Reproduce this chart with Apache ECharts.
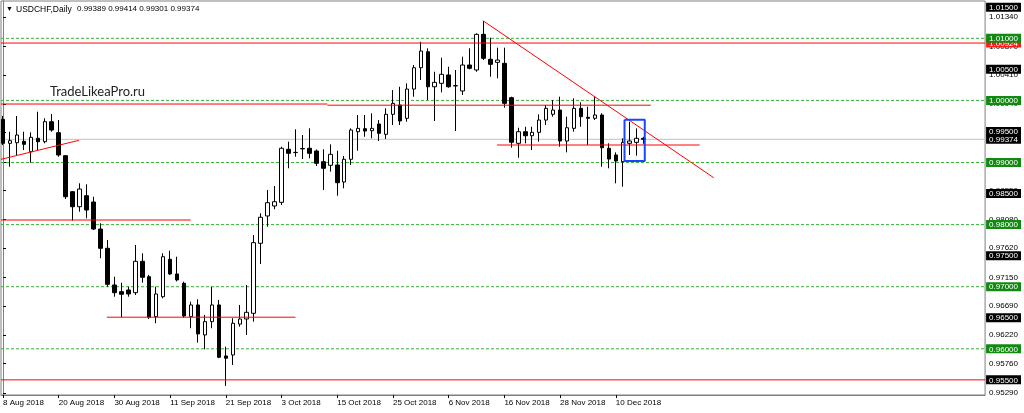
<!DOCTYPE html>
<html><head><meta charset="utf-8">
<script src="https://cdn.jsdelivr.net/npm/echarts@6/dist/echarts.min.js"></script>
<style>html,body{margin:0;padding:0;background:#fff}#c{width:1024px;height:413px}</style>
</head><body><div id="c"></div><script>
// ---- data: daily USDCHF bars, 8 Aug 2018 .. 14 Dec 2018 (index 0..92)
const opens  = [0.99695,0.99309,0.99319,0.99341,0.99174,0.99390,0.99335,0.99657,0.99480,0.99110,
0.98530,0.98288,0.98465,0.98364,0.97929,0.97619,0.97028,0.96920,0.96947,0.96904,
0.97409,0.97161,0.96517,0.96839,0.97442,0.97205,0.97055,0.96517,0.96706,0.96223,
0.96437,0.96706,0.95885,0.95901,0.96398,0.96480,0.96572,0.97699,0.98139,0.98300,
0.98359,0.99213,0.99160,0.99226,0.99229,0.99185,0.99013,0.98955,0.98960,0.98686,
0.99052,0.99496,0.99545,0.99512,0.99620,0.99454,0.99776,0.99926,0.99712,1.00183,
1.00526,1.00784,1.00220,1.00275,1.00410,1.00237,1.00152,1.00570,1.00490,1.01064,
1.00662,1.00613,1.00598,1.00044,0.99309,0.99496,0.99431,0.99486,0.99684,0.99776,
0.99845,0.99346,0.99550,0.99872,0.99728,0.99712,0.99765,0.99229,0.99121,0.99013,
0.99309,0.99325,0.99389];
const closes = [0.99309,0.99351,0.99443,0.99293,0.99406,0.99335,0.99657,0.99523,0.99121,0.98449,
0.98288,0.98573,0.98235,0.97929,0.97619,0.97039,0.96904,0.96878,0.96883,0.97409,
0.97152,0.96508,0.96883,0.97483,0.97205,0.97109,0.96529,0.96706,0.96239,0.96437,
0.96706,0.95864,0.95848,0.96411,0.96480,0.96588,0.97709,0.98118,0.98353,0.98369,
0.99229,0.99148,0.99163,0.99220,0.99148,0.98987,0.98907,0.99132,0.98675,0.99052,
0.99523,0.99550,0.99507,0.99550,0.99470,0.99776,0.99953,0.99669,1.00183,1.00526,
1.00795,1.00220,1.00291,1.00420,1.00220,1.00234,1.00570,1.00517,1.01064,1.00678,
1.00581,1.00650,0.99953,0.99326,0.99496,0.99431,0.99486,0.99684,0.99872,0.99845,
0.99346,0.99560,0.99872,0.99738,0.99712,0.99765,0.99238,0.99056,0.99024,0.99325,
0.99346,0.99390,0.99374];
const lows   = [0.99280,0.98932,0.99121,0.99201,0.98997,0.99201,0.99309,0.99496,0.99093,0.98412,
0.98063,0.98208,0.98101,0.97913,0.97458,0.97000,0.96839,0.96508,0.96839,0.96867,
0.97065,0.96480,0.96411,0.96813,0.97189,0.97085,0.96500,0.96331,0.96099,0.95993,
0.96331,0.95848,0.95402,0.95740,0.96356,0.96223,0.96437,0.97366,0.97966,0.98247,
0.98316,0.98907,0.99093,0.99056,0.99068,0.98944,0.98557,0.98852,0.98465,0.98585,
0.98960,0.99190,0.99415,0.99390,0.99346,0.99379,0.99604,0.99604,0.99657,1.00059,
1.00328,1.00006,0.99669,1.00130,1.00204,0.99507,1.00087,1.00500,1.00462,1.00650,
1.00382,1.00356,0.99883,0.99239,0.99077,0.99309,0.99201,0.99335,0.99604,0.99738,
0.99255,0.99164,0.99496,0.99576,0.99282,0.99684,0.98932,0.98907,0.98665,0.98610,
0.99121,0.99110,0.99301];
const highs  = [0.99750,0.99495,0.99749,0.99496,0.99486,0.99818,0.99712,0.99781,0.99684,0.99121,
0.98540,0.98665,0.98649,0.98449,0.98021,0.97752,0.97161,0.97065,0.97000,0.97672,
0.97538,0.97190,0.97000,0.97538,0.97580,0.97483,0.97080,0.96759,0.96798,0.96545,
0.97000,0.96788,0.96034,0.96492,0.96706,0.97028,0.97832,0.98182,0.98557,0.98622,
0.99254,0.99335,0.99535,0.99443,0.99551,0.99210,0.99213,0.99293,0.99190,0.99105,
0.99550,0.99765,0.99765,0.99792,0.99684,0.99872,1.00167,1.00220,1.00275,1.00570,
1.00945,1.00839,1.00462,1.00688,1.00543,1.00490,1.00704,1.00840,1.01080,1.01279,
1.01010,1.00849,1.00849,1.00060,0.99560,0.99576,0.99576,0.99776,0.99926,1.00006,
1.00060,0.99738,1.00033,0.99969,0.99899,1.00060,0.99792,0.99309,0.99164,0.99390,
0.99657,0.99550,0.99414];

// x ticks (bar index) and their labels
const xTickIdx    = [0,8,16,24,32,40,48,56,64,72,80,88];
const xTickLabels = ['8 Aug 2018','20 Aug 2018','30 Aug 2018','11 Sep 2018','21 Sep 2018','3 Oct 2018',
                     '15 Oct 2018','25 Oct 2018','6 Nov 2018','16 Nov 2018','28 Nov 2018','10 Dec 2018'];
// price scale ticks
const yTicks = [0.9529,0.9576,0.9622,0.9669,0.9715,0.9762,0.9808,0.9855,0.9901,0.9948,0.9994,1.0041,1.0087,1.0134];

// drawn levels (price) and objects (bar index, price)
const greenLevels = [1.01,1.00,0.99,0.98,0.97,0.96];
const redFullLevels = [1.00924,0.955];
const lastPrice = 0.99374;
const blackBoxLevels = [1.015,1.005,0.995,0.985,0.975,0.965,0.955];
const redSegments = [
  [[-0.287,0.99942],[46.58,0.99942]],
  [[46.58,0.99923],[93.02,0.99923]],
  [[-0.287,0.98074],[26.95,0.98074]],
  [[14.91,0.96509],[42.0,0.96509]],
  [[70.95,0.99282],[100.04,0.99282]],
  [[-0.287,0.99051],[10.89,0.99357]],
  [[68.99,1.01279],[102.06,0.98755]]
];
const blueRect = [[89.25,0.99689],[92.16,0.99024]];

// ---- view range
const xMin = -0.287, xMax = 141.03;
const yMin = 0.95256, yMax = 1.01601;

function segs(list){ const out=[]; list.forEach(s=>{out.push(s[0],s[1],[null,null]);}); return out; }
const fullLine = v => [[xMin,v],[xMax,v]];

const chart = echarts.init(document.getElementById('c'), null, {renderer:'canvas'});
const FONT = 'Liberation Sans';
const boxVals = [...blackBoxLevels, ...redFullLevels.slice(0,1), ...greenLevels, lastPrice];

chart.setOption({
  animation:false,
  backgroundColor:'#fff',
  grid:{left:1,right:37,top:1,bottom:18,show:true,borderColor:'#808080',borderWidth:1,backgroundColor:'transparent'},
  xAxis:[{
    type:'value', min:xMin, max:xMax, position:'bottom',
    axisLine:{show:true,lineStyle:{color:'#808080'}},
    axisTick:{show:true,length:3,customValues:xTickIdx,lineStyle:{color:'#000'}},
    axisLabel:{customValues:xTickIdx,align:'left',margin:4,fontSize:8,fontFamily:FONT,color:'#000',
      formatter:v=>xTickLabels[xTickIdx.indexOf(Math.round(v))]||''},
    splitLine:{show:false}
  }],
  yAxis:[{
    type:'value', min:yMin, max:yMax, position:'right',
    axisLine:{show:true,lineStyle:{color:'#808080'}},
    axisTick:{show:true,length:3,customValues:yTicks,lineStyle:{color:'#000'}},
    axisLabel:{customValues:yTicks,margin:4,fontSize:8,fontFamily:FONT,color:'#000',formatter:v=>v.toFixed(5)},
    splitLine:{show:false}
  },{
    type:'value', min:yMin, max:yMax, position:'right', z:5,
    axisLine:{show:false}, axisTick:{show:false}, splitLine:{show:false},
    axisLabel:{customValues:boxVals,margin:1,fontSize:8,fontFamily:FONT,
      formatter:v=>{
        const t=v.toFixed(5);
        if(Math.abs(v-lastPrice)<1e-7) return '{k|'+t+'}';
        if(greenLevels.some(g=>Math.abs(g-v)<1e-7)) return '{g|'+t+'}';
        if(Math.abs(v-redFullLevels[0])<1e-7) return '{r|'+t+'}';
        return '{k|'+t+'}';
      },
      rich:{
        k:{backgroundColor:'#000',color:'#fff',padding:[1,3,0,3],fontSize:8,lineHeight:9,fontFamily:FONT},
        g:{backgroundColor:'#128a12',color:'#fff',padding:[1,3,0,3],fontSize:8,lineHeight:9,fontFamily:FONT},
        r:{backgroundColor:'#ff1a1a',color:'#fff',padding:[1,3,0,3],fontSize:8,lineHeight:9,fontFamily:FONT}
      }}
  }],
  graphic:[
    {type:'text',left:6,top:6,style:{text:'▼',font:'7px '+FONT,fill:'#000'}},
    {type:'text',left:16,top:5,style:{text:'USDCHF,Daily',font:'8.5px '+FONT,fill:'#000'}},
    {type:'text',left:77,top:5,style:{text:'0.99389 0.99414 0.99301 0.99374',font:'8px '+FONT,fill:'#000'}},
    {type:'text',left:50,top:85,style:{text:'TradeLikeaPro.ru',font:'13px Lato',fill:'#222'}}
  ],
  series:[
    {type:'line',name:'price',data:fullLine(lastPrice),symbol:'none',silent:true,z:1,
     lineStyle:{color:'#c0c0c0',width:1}},
    {type:'line',name:'green',data:segs(greenLevels.map(fullLine)),symbol:'none',silent:true,connectNulls:false,z:2,
     lineStyle:{color:'#33b433',width:1,type:[3,2]}},
    {type:'candlestick',name:'USDCHF',
     data:opens.map((o,i)=>[i,o,closes[i],lows[i],highs[i]]),
     encode:{x:0,y:[1,2,3,4]},
     barWidth:4, z:3,
     itemStyle:{color:'#fff',color0:'#000',borderColor:'#000',borderColor0:'#000',borderWidth:1}},
    {type:'line',name:'red',data:segs([...redFullLevels.map(fullLine),...redSegments]),symbol:'none',silent:true,connectNulls:false,z:4,
     lineStyle:{color:'#ff0000',width:1}},
    {type:'line',name:'box',data:[[blueRect[0][0],blueRect[0][1]],[blueRect[1][0],blueRect[0][1]],[blueRect[1][0],blueRect[1][1]],[blueRect[0][0],blueRect[1][1]],[blueRect[0][0],blueRect[0][1]]],
     symbol:'none',silent:true,z:5,lineStyle:{color:'#1a44ff',width:2}}
  ]
});
</script></body></html>
